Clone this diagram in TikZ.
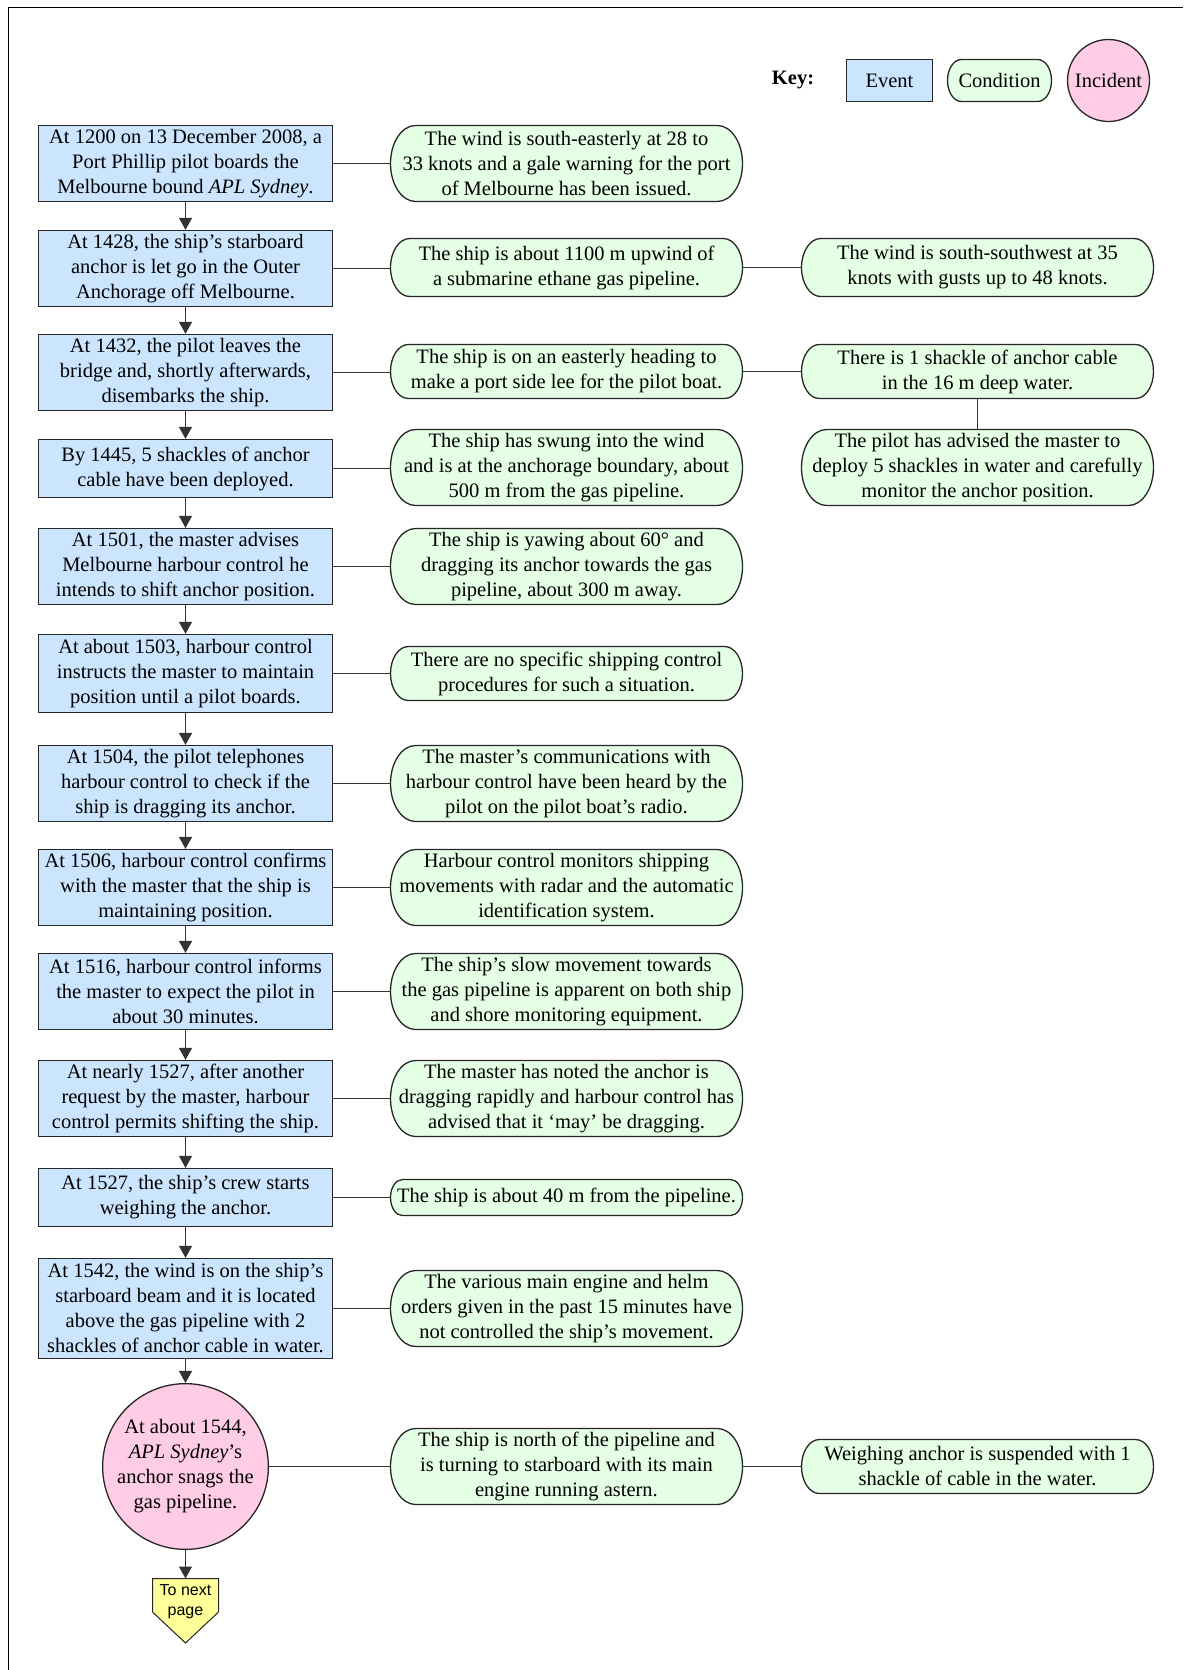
\documentclass[tikz,border=0pt]{standalone}
\usepackage{fontspec}
\setmainfont{Liberation Serif}
\newfontfamily\arialfont{Liberation Sans}
\usetikzlibrary{arrows.meta}
\definecolor{evfill}{RGB}{204,229,255}
\definecolor{condfill}{RGB}{229,255,229}
\definecolor{incfill}{RGB}{255,204,229}
\definecolor{nextfill}{RGB}{255,255,153}
\tikzset{
  txt/.style={font=\fontsize{20.5pt}{25pt}\selectfont, align=center, inner sep=0pt},
  event/.style={txt, rectangle, draw=black!85, fill=evfill, line width=1.3pt, minimum width=294pt},
  condnode/.style={txt, rectangle, draw=none, minimum width=352pt},
  condline/.style={draw=black!85, fill=condfill, line width=1.3pt},
  incident/.style={txt, circle, draw=black!85, fill=incfill, line width=1.3pt},
  link/.style={draw=black!80, line width=1.3pt},
  arr/.style={link, -{Triangle[width=13pt,length=12pt]}}
}
% name, cx, cy, height, width, text
\newcommand\condbox[6]{%
  \pgfmathsetmacro\hh{#4/2}%
  \pgfmathsetmacro\rx{0.66*#4/2}%
  \pgfmathsetmacro\ww{#5/2}%
  \path[condline] (#2-\ww+\rx,#3-\hh) -- (#2+\ww-\rx,#3-\hh)
     arc[start angle=90,end angle=-90,x radius=\rx pt,y radius=\hh pt]
     -- (#2-\ww+\rx,#3+\hh)
     arc[start angle=270,end angle=90,x radius=\rx pt,y radius=\hh pt] -- cycle;
  \node[condnode, minimum width=#5pt, minimum height=#4pt] (#1) at (#2,#3) {#6};%
}
\begin{document}
\begin{tikzpicture}[x=1pt,y=-1pt]
\useasboundingbox (0,0) rectangle (1183,1670);
\draw[line width=1.8pt] (8.5,1670) -- (8.5,7.5) -- (1183,7.5);

% key
\node[font=\fontsize{20.5pt}{25pt}\selectfont\bfseries, inner sep=0pt] (key) at (793,80) {Key:};
\node[event, minimum width=86pt, minimum height=42pt] (kev) at (889.5,80.5) {Event};
\condbox{kcond}{999.5}{80.5}{42}{104}{Condition}
\node[incident, minimum size=82pt] (kinc) at (1108.5,80.5) {Incident};

% events
\def\XA{185.5}
\node[event, minimum height=76pt] (e1) at (\XA,163.5) {At 1200 on 13 December 2008, a\\Port Phillip pilot boards the\\Melbourne bound \textit{APL Sydney}.};
\node[event, minimum height=76pt] (e2) at (\XA,268.5) {At 1428, the ship's starboard\\anchor is let go in the Outer\\Anchorage off Melbourne.};
\node[event, minimum height=76pt] (e3) at (\XA,372.5) {At 1432, the pilot leaves the\\bridge and, shortly afterwards,\\disembarks the ship.};
\node[event, minimum height=58pt] (e4) at (\XA,468.5) {By 1445, 5 shackles of anchor\\cable have been deployed.};
\node[event, minimum height=76pt] (e5) at (\XA,566.5) {At 1501, the master advises\\Melbourne harbour control he\\intends to shift anchor position.};
\node[event, minimum height=78pt] (e6) at (\XA,673.5) {At about 1503, harbour control\\instructs the master to maintain\\position until a pilot boards.};
\node[event, minimum height=76pt] (e7) at (\XA,783.5) {At 1504, the pilot telephones\\harbour control to check if the\\ship is dragging its anchor.};
\node[event, minimum height=76pt] (e8) at (\XA,887.5) {At 1506, harbour control confirms\\with the master that the ship is\\maintaining position.};
\node[event, minimum height=76pt] (e9) at (\XA,991.5) {At 1516, harbour control informs\\the master to expect the pilot in\\about 30 minutes.};
\node[event, minimum height=76pt] (e10) at (\XA,1098.5) {At nearly 1527, after another\\request by the master, harbour\\control permits shifting the ship.};
\node[event, minimum height=58pt] (e11) at (\XA,1197.5) {At 1527, the ship's crew starts\\weighing the anchor.};
\node[event, minimum height=100pt] (e12) at (\XA,1308.5) {At 1542, the wind is on the ship's\\starboard beam and it is located\\above the gas pipeline with 2\\shackles of anchor cable in water.};
\node[incident, minimum size=163pt] (inc) at (\XA,1466.5) {At about 1544,\\\textit{APL Sydney}'s\\anchor snags the\\gas pipeline.};

% to next page
\path[draw=black!85, fill=nextfill, line width=1pt] (152.5,1578.5) -- (218.5,1578.5) -- (218.5,1612) -- (185.5,1643) -- (152.5,1612) -- cycle;
\coordinate (nt) at (185.5,1578.5);
\node[font=\arialfont\fontsize{16pt}{20pt}\selectfont, align=center, inner sep=0pt] (next) at (185.5,1602) {To next\\page};

% conditions, column 2
\def\XB{566.5}
\condbox{c1}{\XB}{163.5}{76}{352}{The wind is south-easterly at 28 to\\33 knots and a gale warning for the port\\of Melbourne has been issued.}
\condbox{c2}{\XB}{267.5}{58}{352}{The ship is about 1100 m upwind of\\a submarine ethane gas pipeline.}
\condbox{c3}{\XB}{371.5}{54}{352}{The ship is on an easterly heading to\\make a port side lee for the pilot boat.}
\condbox{c4}{\XB}{467.5}{76}{352}{The ship has swung into the wind\\and is at the anchorage boundary, about\\500 m from the gas pipeline.}
\condbox{c5}{\XB}{566.5}{76}{352}{The ship is yawing about 60° and\\dragging its anchor towards the gas\\pipeline, about 300 m away.}
\condbox{c6}{\XB}{673.5}{54}{352}{There are no specific shipping control\\procedures for such a situation.}
\condbox{c7}{\XB}{783.5}{76}{352}{The master's communications with\\harbour control have been heard by the\\pilot on the pilot boat's radio.}
\condbox{c8}{\XB}{887.5}{76}{352}{Harbour control monitors shipping\\movements with radar and the automatic\\identification system.}
\condbox{c9}{\XB}{991.5}{76}{352}{The ship's slow movement towards\\the gas pipeline is apparent on both ship\\and shore monitoring equipment.}
\condbox{c10}{\XB}{1098.5}{76}{352}{The master has noted the anchor is\\dragging rapidly and harbour control has\\advised that it `may' be dragging.}
\condbox{c11}{\XB}{1197.5}{36}{352}{The ship is about 40 m from the pipeline.}
\condbox{c12}{\XB}{1308.5}{76}{352}{The various main engine and helm\\orders given in the past 15 minutes have\\not controlled the ship's movement.}
\condbox{c13}{\XB}{1466.5}{76}{352}{The ship is north of the pipeline and\\is turning to starboard with its main\\engine running astern.}

% column 3
\def\XC{977.5}
\condbox{r1}{\XC}{267.5}{58}{352}{The wind is south-southwest at 35\\knots with gusts up to 48 knots.}
\condbox{r2}{\XC}{371.5}{54}{352}{There is 1 shackle of anchor cable\\in the 16 m deep water.}
\condbox{r3}{\XC}{467.5}{76}{352}{The pilot has advised the master to\\deploy 5 shackles in water and carefully\\monitor the anchor position.}
\condbox{r4}{\XC}{1466.5}{54}{352}{Weighing anchor is suspended with 1\\shackle of cable in the water.}

% vertical arrows
\foreach \a/\b in {e1/e2,e2/e3,e3/e4,e4/e5,e5/e6,e6/e7,e7/e8,e8/e9,e9/e10,e10/e11,e11/e12,e12/inc}
  \draw[arr] (\a.south) -- (\b.north);
\draw[arr] (inc.south) -- (nt);

% horizontal links
\foreach \a/\b in {e1/c1,e2/c2,e3/c3,e4/c4,e5/c5,e6/c6,e7/c7,e8/c8,e9/c9,e10/c10,e11/c11,e12/c12}
  \draw[link] (\a.east) -- (\a.east -| \b.west);
\draw[link] (inc.east) -- (inc.east -| c13.west);
\draw[link] (c2.east) -- (c2.east -| r1.west);
\draw[link] (c3.east) -- (c3.east -| r2.west);
\draw[link] (c13.east) -- (c13.east -| r4.west);
\draw[link] (r2.south) -- (r3.north);
\end{tikzpicture}
\end{document}
